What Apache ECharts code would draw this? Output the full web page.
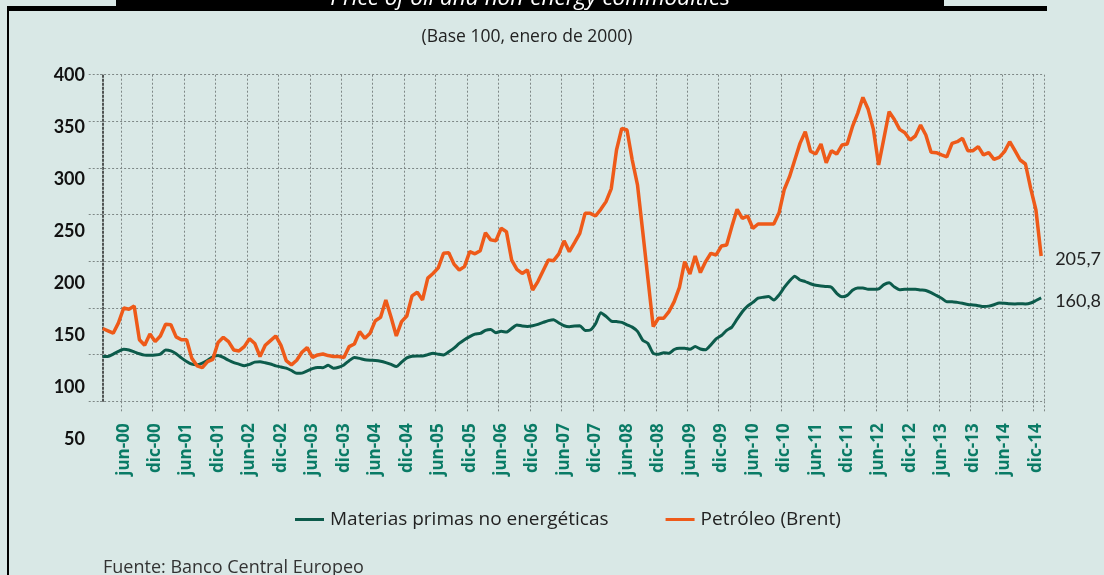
<!DOCTYPE html>
<html>
    <head>
        <meta charset="UTF-8" />
        <script src="https://cdn.jsdelivr.net/npm/echarts@6/dist/echarts.min.js"></script>
        <style>
            html, body { margin: 0; padding: 0; background: #d9e8e6; }
            #main { width: 1104px; height: 575px; }
        </style>
    </head>

    <body>
        <div id="main"></div>
        <script type="text/javascript">
            // meses de feb-00 a ene-15
            var meses = ['ene', 'feb', 'mar', 'abr', 'may', 'jun', 'jul', 'ago', 'sep', 'oct', 'nov', 'dic'];
            var categorias = [];
            for (var k = 1; k <= 180; k++) {
                categorias.push(meses[k % 12] + '-' + String(2000 + Math.floor(k / 12)).slice(2));
            }

            var materiasPrimas = [
                98, 98, 100.5, 103.5, 105.7, 105, 103, 101, 99.5, 99.3,
                99.5, 100.5, 105, 104, 101, 96.5, 92.7, 89.8, 89.2, 91,
                94, 97.5, 99, 97, 94, 91.5, 89.8, 88.2, 89.5, 92,
                92.3, 91.3, 90, 88, 86.8, 85.5, 83, 80, 80.2, 82.5,
                85, 86.3, 86, 88.5, 85.5, 86.5, 89, 93.5, 97, 96,
                94.5, 94, 93.8, 93, 91.5, 89.5, 87.2, 92, 96.5, 98.2,
                98.5, 98.5, 100, 101.5, 100.5, 99.7, 103, 107, 112, 116,
                119.3, 122, 122.7, 126, 127, 123.5, 125, 124.3, 128, 131.8,
                130.7, 130.2, 131, 132.5, 134.5, 136.5, 137.5, 134, 131, 130,
                130.7, 131, 126, 126.4, 133, 145, 141, 136, 135.4, 134.6,
                132, 129.5, 125, 115.5, 112, 101.5, 100.4, 102, 101.5, 105.5,
                106.8, 106.8, 105.7, 108.6, 106.1, 105.2, 110.5, 117, 120.5, 126,
                129.5, 138, 146, 152, 156, 160.5, 161.5, 162.2, 158.6, 164,
                172, 179, 184, 180, 178.3, 176, 174.3, 173.5, 173, 172.2,
                165.7, 162, 163.5, 169, 171.5, 171.5, 170, 170, 170.5, 175,
                177, 172.5, 169.5, 170, 170, 170, 169.3, 168.8, 166.5, 163.5,
                160.5, 156.8, 156.8, 156, 155, 153.8, 153.2, 152.5, 151.6, 152,
                153.5, 155.3, 155.2, 154.5, 154.4, 154.6, 154.3, 155.3, 158, 160.8
            ];

            var petroleo = [
                128, 125.5, 123, 134, 150, 148.6, 152, 116, 110, 122,
                114, 120, 132.5, 132, 119, 116, 116, 96, 88, 86,
                92.5, 95, 113, 118.6, 114, 105, 104, 108.6, 117, 112,
                98, 110, 115, 120, 110, 93.6, 89, 94, 102.5, 107.5,
                97, 99.7, 100.7, 99, 98, 98, 97, 108.6, 111.4, 124.6,
                117.5, 123, 136.4, 140, 158.6, 140, 120, 135.4, 141.4, 163,
                166.8, 158.6, 182, 187, 193, 208.6, 209.3, 197, 190.7, 194.3,
                210.4, 208, 211.4, 230.7, 223, 222, 235.4, 231.8, 201.4, 191.4,
                187, 190.7, 169.3, 178.3, 190, 201.4, 200.7, 208, 222, 210.4,
                220, 230, 251.4, 251.4, 248.6, 255.7, 264, 278, 319.3, 342.5,
                340.7, 308.6, 282, 232, 181, 130, 139, 139, 146, 156.8,
                172, 199.7, 186.4, 205.7, 187.9, 199.7, 208.6, 206.8, 216.4, 217.5,
                237.2, 255.7, 246, 248.6, 235.4, 240, 240, 240, 240, 252,
                277, 290.7, 308.6, 326.4, 339, 318, 315, 325.7, 305.7, 318.6,
                315, 324.6, 325.7, 344.3, 358.6, 375.7, 362.9, 341.4, 303.2, 331.8,
                360.4, 352, 341.4, 337.9, 330, 334.3, 346, 335.4, 316.8, 316.4,
                314, 312, 326.4, 328.2, 331.8, 318.6, 318.6, 322.9, 314, 316.4,
                309.3, 311.4, 317.5, 328.2, 318.6, 308.6, 304.3, 278.2, 255, 205.7
            ];

            var nombres = ['Materias primas no energéticas', 'Petróleo (Brent)'];

            var fuente = 'Lato';
            var fuenteAncha = '"Open Sans"';
            var gris = { color: '#7e8786', type: [2, 2], width: 1 };
            function junDic(index, value) {
                return /^(jun|dic)/.test(value);
            }
            function coma(p) {
                return String(p.value).replace('.', ',');
            }

            var myChart = echarts.init(document.getElementById('main'));
            var option = {
                backgroundColor: '#d9e8e6',
                animation: false,
                textStyle: { fontFamily: fuente },
                graphic: [
                    { type: 'rect', shape: { x: 116, y: -2, width: 828, height: 10 }, style: { fill: '#000' } },
                    { type: 'rect', shape: { x: 7, y: 6, width: 1040, height: 5 }, style: { fill: '#000' } },
                    { type: 'rect', shape: { x: 7, y: 6, width: 2, height: 580 }, style: { fill: '#000' } },
                    {
                        type: 'text', x: 530, y: 10,
                        style: {
                            text: 'Price of oil and non-energy commodities', fill: '#fff',
                            font: 'italic 22.5px ' + fuenteAncha, textAlign: 'center', textVerticalAlign: 'bottom'
                        }
                    },
                    {
                        type: 'text', x: 527, y: 37,
                        style: {
                            text: '(Base 100, enero de 2000)', fill: '#222',
                            font: '17.5px ' + fuenteAncha, textAlign: 'center', textVerticalAlign: 'middle'
                        }
                    },
                    {
                        type: 'text', x: 103, y: 568,
                        style: {
                            text: 'Fuente: Banco Central Europeo', fill: '#333',
                            font: '18px ' + fuenteAncha, textAlign: 'left', textVerticalAlign: 'middle'
                        }
                    }
                ],
                legend: {
                    data: nombres,
                    left: 290,
                    top: 505,
                    icon: 'rect',
                    itemWidth: 29,
                    itemHeight: 3,
                    itemGap: 57,
                    textStyle: { fontFamily: fuenteAncha, fontSize: 19, color: '#222', padding: [0, 0, 0, 1] }
                },
                grid: [
                    { left: 100.1, top: 74.7, width: 943.7, height: 326.6 },
                    { left: 90, top: 75, width: 1, height: 364 }
                ],
                xAxis: [
                    {
                        type: 'category',
                        gridIndex: 0,
                        data: categorias,
                        boundaryGap: true,
                        axisLine: { show: false },
                        axisTick: { show: true, interval: junDic, length: 11, lineStyle: gris },
                        splitLine: { show: true, interval: junDic, lineStyle: gris },
                        axisLabel: {
                            interval: junDic, rotate: 90, margin: 22,
                            fontFamily: fuenteAncha, fontSize: 17, fontWeight: 'bold', color: '#0a7b66'
                        }
                    },
                    { type: 'value', gridIndex: 1, show: false }
                ],
                yAxis: [
                    {
                        type: 'value', gridIndex: 0, min: 50, max: 400, interval: 50, offset: -2.6,
                        axisLabel: { show: false },
                        axisLine: { show: true, lineStyle: { color: '#222', type: [2, 2], width: 1.5 } },
                        axisTick: { show: true, length: 16, lineStyle: gris },
                        splitLine: { show: true, lineStyle: gris }
                    },
                    {
                        type: 'value', gridIndex: 1, min: 50, max: 400, interval: 50,
                        axisLine: { show: false },
                        axisTick: { show: false },
                        splitLine: { show: false },
                        axisLabel: { margin: 5, fontSize: 18, fontWeight: 'bold', color: '#111' }
                    }
                ],
                series: [
                    {
                        name: nombres[0],
                        type: 'line',
                        data: materiasPrimas,
                        symbol: 'none',
                        smooth: 0.2,
                        color: '#0c5b4b',
                        lineStyle: { width: 3, color: '#0c5b4b' },
                        endLabel: { show: true, formatter: coma, distance: 14, offset: [0, 3], fontSize: 18, color: '#222' }
                    },
                    {
                        name: nombres[1],
                        type: 'line',
                        data: petroleo,
                        symbol: 'none',
                        color: '#ee5a19',
                        lineStyle: { width: 3.5, color: '#ee5a19' },
                        endLabel: { show: true, formatter: coma, distance: 14, offset: [0, 3], fontSize: 18, color: '#222' }
                    }
                ]
            };

            option && myChart.setOption(option);
        </script>
    </body>
</html>
